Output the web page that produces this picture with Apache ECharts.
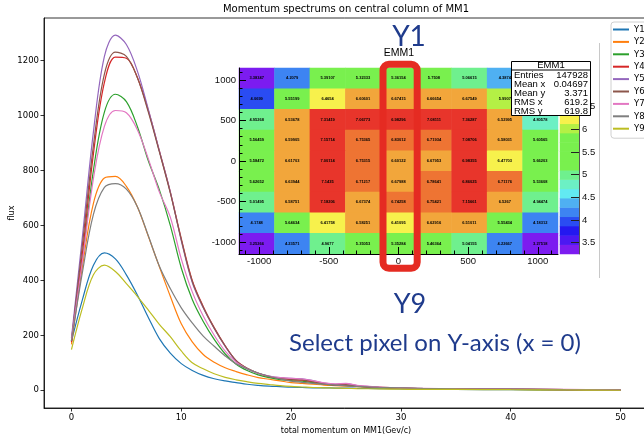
<!DOCTYPE html>
<html><head><meta charset="utf-8">
<script src="https://cdn.jsdelivr.net/npm/echarts@6/dist/echarts.min.js"></script>
<style>html,body{margin:0;padding:0;background:#fff}#c{width:644px;height:438px}</style>
</head><body><div id="c"></div>
<script>
// ---------- main spectrum data ----------
const momentum = [0,1,2,3,4,5,6,7,8,9,10,11,12,13,14,15,16,17,18,19,20,21,22,23,24,25,26,28,30,32,35,40,45,50];
const Y1 = [178,330,455,500,478,420,347,265,188,135,97,72,54,42,34,28,22,18,15,13,11,10,9,9,8,8,7,6,5,4,3,2,1,0];
const Y2 = [167,450,680,772,778,742,668,560,450,342,242,176,130,102,82,68,56,46,40,34,28,25,22,19,17,15,13,10,8,6,5,3,2,1];
const Y3 = [180,480,800,1012,1077,1050,960,835,730,600,445,330,250,185,132,95,72,56,46,39,35,33,28,22,19,18,14,10,8,6,5,3,2,1];
const Y4 = [175,500,860,1120,1212,1208,1138,1018,872,722,552,400,305,228,162,108,80,62,50,43,39,37,31,24,20,20,15,11,8,6,5,4,2,1];
const Y5 = [190,560,940,1215,1292,1258,1162,1022,872,722,545,392,300,225,160,106,78,62,52,46,43,42,35,26,22,24,17,11,8,6,5,4,2,1];
const Y6 = [180,530,890,1150,1230,1215,1138,1012,868,718,548,396,302,226,161,108,80,62,50,44,40,38,32,24,20,20,15,11,8,6,5,4,2,1];
const Y7 = [185,470,770,960,1018,1010,948,842,722,630,478,358,270,200,142,102,78,62,52,46,43,41,35,27,23,25,18,12,9,7,5,4,3,1];
const Y8 = [180,430,640,738,752,732,668,562,452,370,300,245,197,160,125,96,78,63,51,41,33,29,25,22,19,16,14,11,9,7,5,4,2,1];
const Y9 = [148,300,420,455,432,388,342,292,240,195,143,100,78,60,47,38,31,25,21,17,14,12,10,9,8,7,6,5,4,3,3,2,1,0];
const seriesNames = ['Y1','Y2','Y3','Y4','Y5','Y6','Y7','Y8','Y9'];
const seriesValues = [Y1,Y2,Y3,Y4,Y5,Y6,Y7,Y8,Y9];
const seriesColors = ['#1f77b4','#ff7f0e','#2ca02c','#d62728','#9467bd','#8c564b','#e377c2','#7f7f7f','#bcbd22'];
const xTicks = [0,10,20,30,40,50];
const yTicks = [0,200,400,600,800,1000,1200];

// ---------- EMM1 pixel map (rows top -> bottom) ----------
const pixelCols = ['-1000','-750','-500','-250','0','250','500','750','1000'];
const pixelRows = ['-1000','-750','-500','-250','0','250','500','750','1000'];
const emmRow1 = [3.38347,4.2079,5.39107,5.32333,5.36154,5.7508,5.06615,4.3874,3.3612];
const emmRow2 = [4.0699,5.55199,6.4654,6.60601,6.67415,6.66654,6.67549,5.9907,4.1205];
const emmRow3 = [4.95268,6.53678,7.31419,7.06773,6.98296,7.08111,7.36287,6.52995,4.80578];
const emmRow4 = [5.56459,6.59905,7.15714,6.75365,6.83012,6.71934,7.08706,6.58031,5.60565];
const emmRow5 = [5.58472,6.61703,7.00114,6.75315,6.60122,6.67953,6.98355,6.47703,5.66203];
const emmRow6 = [5.62652,6.63944,7.1435,6.71217,6.67988,6.78641,6.86025,6.71176,5.53608];
const emmRow7 = [5.01495,6.58751,7.18206,6.67374,6.74258,6.75421,7.15661,6.5267,4.94474];
const emmRow8 = [4.1748,5.64634,6.41758,6.58251,6.41095,6.62916,6.51011,5.55434,4.18312];
const emmRow9 = [3.25266,4.23571,4.9677,5.35053,5.35284,5.46364,5.04155,4.22667,3.27518];
const emmRows = [emmRow1,emmRow2,emmRow3,emmRow4,emmRow5,emmRow6,emmRow7,emmRow8,emmRow9];
const pixelTicks = [-1000,-500,0,500,1000];
const paletteLevels = [3.35,3.56,3.76,3.97,4.17,4.38,4.58,4.79,4.99,5.20,5.40,5.61,5.81,6.02,6.22,6.43,6.63,6.84,7.04,7.25];
const paletteTicks = [3.5,4,4.5,5,5.5,6,6.5,7];
const statNames = ['Entries','Mean x','Mean y','RMS x','RMS y'];
const statValues = ['147928','0.04697','3.371','619.2','619.8'];

// ---------- build ----------
const plain = v => String(v);
const lineSeries = seriesNames.map((n,k)=>({
  name:n, type:'line', xAxisIndex:0, yAxisIndex:0,
  data: momentum.map((x,i)=>[x, seriesValues[k][i]]),
  showSymbol:false, smooth:0.35, color:seriesColors[k],
  lineStyle:{width:1.2, color:seriesColors[k]}, z:2, animation:false
}));
const cells = [];
emmRows.forEach((row,r)=>row.forEach((v,c)=>cells.push([c, 8-r, v])));
const cbData = paletteLevels.map((v,i)=>[0,i,v]);
const minorPix = []; for(let v=-1100; v<=1100; v+=100){ if(v%500!==0) minorPix.push(v); }

const pieces = [
  {min:3.0, max:3.45, color:'#7c1cf0'},
  {min:3.45,max:3.66, color:'#4c18f2'},
  {min:3.66,max:3.87, color:'#2418f0'},
  {min:3.87,max:4.07, color:'#2a4cf2'},
  {min:4.07,max:4.35, color:'#3d84f2'},
  {min:4.35,max:4.55, color:'#4fb0f2'},
  {min:4.55,max:4.75, color:'#62eaf2'},
  {min:4.75,max:4.92, color:'#6cf0c4'},
  {min:4.92,max:5.10, color:'#6ff08e'},
  {min:5.10,max:5.94, color:'#79f04e'},
  {min:5.94,max:6.12, color:'#b4f045'},
  {min:6.12,max:6.49, color:'#f7f14c'},
  {min:6.49,max:6.70, color:'#f2a63b'},
  {min:6.70,max:6.85, color:'#ee7433'},
  {min:6.85,max:8.0,  color:'#e8352b'}
];

const HM = {left:239, top:68, width:319, height:186, outerBoundsMode:'none', containLabel:false};
const CB = {left:560, top:68, width:19, height:186, outerBoundsMode:'none', containLabel:false};
const rootFont = 'Liberation Sans, Arial, sans-serif';
const mplFont = 'DejaVu Sans, sans-serif';
const navy = '#1f3b8c';

const option = {
  animation:false,
  backgroundColor:'#fff',
  grid:[
    {left:44, top:18, width:604, height:390, outerBoundsMode:'none', containLabel:false, show:true, borderColor:'#000', borderWidth:0.8, backgroundColor:'transparent'},
    Object.assign({}, HM),
    Object.assign({}, HM),
    Object.assign({}, HM),
    Object.assign({}, CB),
    Object.assign({}, CB)
  ],
  xAxis:[
    {gridIndex:0, type:'value', min:-2.5, max:52.5,
     axisLine:{show:true, onZero:false, lineStyle:{color:'#000', width:0.8}},
     axisTick:{show:true, length:3.5, customValues:xTicks, lineStyle:{color:'#000', width:0.8}},
     axisLabel:{customValues:xTicks, formatter:plain, fontFamily:mplFont, fontSize:8.5, color:'#000', margin:5},
     splitLine:{show:false}},
    {gridIndex:1, type:'category', data:pixelCols, show:false},
    {gridIndex:2, type:'value', min:-1145, max:1145, z:20,
     axisLine:{show:true, onZero:false, lineStyle:{color:'#000', width:1}},
     axisTick:{show:true, inside:true, length:7, customValues:pixelTicks, lineStyle:{color:'#000'}},
     axisLabel:{customValues:pixelTicks, formatter:plain, fontFamily:rootFont, fontSize:9.5, color:'#111', margin:2},
     splitLine:{show:false}},
    {gridIndex:3, type:'value', min:-1145, max:1145, z:20,
     axisLine:{show:false, onZero:false}, axisTick:{show:true, inside:true, length:3.5, customValues:minorPix, lineStyle:{color:'#000'}},
     axisLabel:{show:false}, splitLine:{show:false}},
    {gridIndex:4, type:'category', data:['c'], show:false},
    {gridIndex:5, type:'value', min:0, max:1, show:false}
  ],
  yAxis:[
    {gridIndex:0, type:'value', min:-64.5, max:1354.5,
     axisLine:{show:true, onZero:false, lineStyle:{color:'#000', width:0.8}},
     axisTick:{show:true, length:3.5, customValues:yTicks, lineStyle:{color:'#000', width:0.8}},
     axisLabel:{customValues:yTicks, formatter:plain, fontFamily:mplFont, fontSize:8.5, color:'#000', margin:5},
     splitLine:{show:false}},
    {gridIndex:1, type:'category', data:pixelRows, show:false},
    {gridIndex:2, type:'value', min:-1148, max:1148, z:20,
     axisLine:{show:true, onZero:false, lineStyle:{color:'#000', width:1}},
     axisTick:{show:true, inside:true, length:7, customValues:pixelTicks, lineStyle:{color:'#000'}},
     axisLabel:{customValues:pixelTicks, formatter:plain, fontFamily:rootFont, fontSize:9.5, color:'#111', margin:3},
     splitLine:{show:false}},
    {gridIndex:3, type:'value', min:-1148, max:1148, z:20,
     axisLine:{show:false, onZero:false}, axisTick:{show:true, inside:true, length:3.5, customValues:minorPix, lineStyle:{color:'#000'}},
     axisLabel:{show:false}, splitLine:{show:false}},
    {gridIndex:4, type:'category', data:paletteLevels.map(String), show:false},
    {gridIndex:5, type:'value', position:'right', min:3.25, max:7.35, z:20,
     axisLine:{show:true, onZero:false, lineStyle:{color:'#555', width:1}},
     axisTick:{show:true, inside:true, length:8, customValues:paletteTicks, lineStyle:{color:'#222'}},
     axisLabel:{customValues:paletteTicks, formatter:plain, fontFamily:rootFont, fontSize:9.5, color:'#111', margin:3},
     splitLine:{show:false}}
  ],
  visualMap:[{type:'piecewise', show:false, seriesIndex:[9,10], dimension:2, pieces:pieces}],
  legend:{
    data:seriesNames, orient:'vertical', left:611, top:22, padding:[2,4,4,2],
    itemWidth:16, itemHeight:2, itemGap:1.4, icon:'rect',
    textStyle:{fontFamily:mplFont, fontSize:8.5, color:'#000', lineHeight:11},
    borderColor:'#d0d0d0', borderWidth:1, borderRadius:3, backgroundColor:'rgba(255,255,255,0.85)', z:30
  },
  series: lineSeries.concat([
    {type:'heatmap', xAxisIndex:1, yAxisIndex:1, data:cells, z:5,
     label:{show:true, fontSize:4, fontFamily:rootFont, color:'#000', fontWeight:'bold', formatter:p=>String(p.value[2])},
     itemStyle:{borderWidth:0}},
    {type:'heatmap', xAxisIndex:4, yAxisIndex:4, data:cbData, z:5, itemStyle:{borderWidth:0}}
  ]),
  graphic:[
    {type:'text', z:100, style:{text:'Momentum spectrums on central column of MM1', x:346, y:9, textAlign:'center', textVerticalAlign:'middle', align:'center', verticalAlign:'middle', font:'10px DejaVu Sans', fill:'#000'}},
    {type:'text', z:100, style:{text:'total momentum on MM1(Gev/c)', x:346, y:431, textAlign:'center', textVerticalAlign:'middle', align:'center', verticalAlign:'middle', font:'8px DejaVu Sans', fill:'#000'}},
    {type:'text', z:100, x:12, y:213, rotation:Math.PI/2, style:{text:'flux', x:0, y:0, textAlign:'center', textVerticalAlign:'middle', align:'center', verticalAlign:'middle', font:'8px DejaVu Sans', fill:'#000'}},
    {type:'line', z:100, shape:{x1:599.5, y1:43, x2:599.5, y2:278}, style:{stroke:'#c8c8c8', lineWidth:1}},
    {type:'text', z:100, style:{text:'EMM1', x:399, y:53, textAlign:'center', textVerticalAlign:'middle', align:'center', verticalAlign:'middle', font:'10.5px Liberation Sans', fill:'#000'}},
    {type:'group', z:100, children:[
      {type:'rect', z:100, shape:{x:511.5, y:61.5, width:79, height:54}, style:{fill:'#fff', stroke:'#000', lineWidth:1}},
      {type:'line', z:101, shape:{x1:511.5, y1:70, x2:590.5, y2:70}, style:{stroke:'#000', lineWidth:1}},
      {type:'text', z:101, style:{text:'EMM1', x:551, y:65.8, textAlign:'center', textVerticalAlign:'middle', align:'center', verticalAlign:'middle', font:'9.5px Liberation Sans', fill:'#000'}}
    ].concat(statNames.map((n,i)=>({type:'text', z:101, style:{text:n, x:514, y:75+i*9, textAlign:'left', textVerticalAlign:'middle', align:'left', verticalAlign:'middle', font:'9.5px Liberation Sans', fill:'#000'}})))
     .concat(statValues.map((v,i)=>({type:'text', z:101, style:{text:v, x:588, y:75+i*9, textAlign:'right', textVerticalAlign:'middle', align:'right', verticalAlign:'middle', font:'9.5px Liberation Sans', fill:'#000'}})))
    },
    {type:'rect', z:110, shape:{x:383, y:64.2, width:34.2, height:204, r:6}, style:{fill:'none', stroke:'#e52b22', lineWidth:7}},
    {type:'text', z:110, style:{text:'Y1', x:409, y:37, textAlign:'center', textVerticalAlign:'middle', align:'center', verticalAlign:'middle', font:'28px Lato', fill:navy}},
    {type:'text', z:110, style:{text:'Y9', x:410, y:304, textAlign:'center', textVerticalAlign:'middle', align:'center', verticalAlign:'middle', font:'27px Lato', fill:navy}},
    {type:'text', z:110, style:{text:'Select pixel on Y-axis (x = 0)', x:435, y:343, textAlign:'center', textVerticalAlign:'middle', align:'center', verticalAlign:'middle', font:'24px Lato', fill:navy}}
  ]
};
const chart = echarts.init(document.getElementById('c'), null, {renderer:'canvas'});
chart.setOption(option);
</script></body></html>
